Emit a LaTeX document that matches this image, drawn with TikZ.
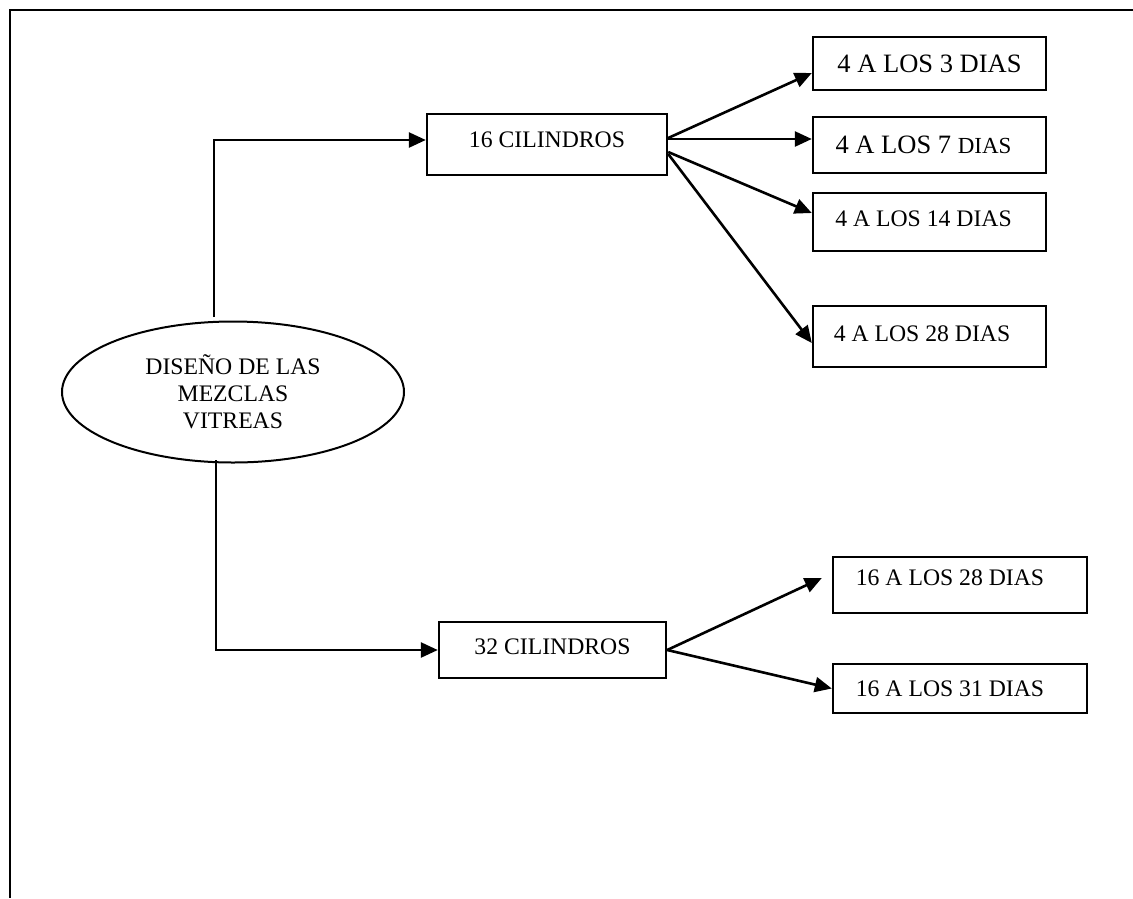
\documentclass[tikz,border=0pt]{standalone}
\usepackage{fontspec}
\setmainfont{Liberation Serif}
\usetikzlibrary{shapes.geometric,arrows.meta,calc}
\begin{document}
\begin{tikzpicture}[x=1pt,y=-1pt,
  box/.style={draw,line width=2.4pt,inner sep=0pt,font=\fontsize{23.7}{27}\selectfont},
  oval/.style={draw,ellipse,line width=2pt,inner sep=0pt,align=center,font=\fontsize{23.7}{27}\selectfont},
  arr/.style={line width=2.6pt,-{Triangle[length=17pt,width=15pt]}},
  frame/.style={line width=2.8pt}]
\useasboundingbox (0,0) rectangle (1133,898);
% frame
\draw[frame] (1133,10) -- (10,10) -- (10,898);
% nodes
\node[oval,minimum width=342pt,minimum height=141pt] (e) at (233,392) {DISEÑO DE LAS\\MEZCLAS\\VITREAS};
\node[box,minimum width=240pt,minimum height=61pt,text depth=10pt] (c16) at (547,144.5) {16 CILINDROS};
\node[box,minimum width=227pt,minimum height=56pt,text depth=7pt] (c32) at (552.5,650) {32 CILINDROS};
\node[box,minimum width=233pt,minimum height=53pt,font=\fontsize{26.5}{30}\selectfont] (d3) at (929.5,63.5) {4 A LOS 3 DIAS};
\node[box,minimum width=233pt,minimum height=56pt,font=\fontsize{26.5}{30}\selectfont] (d7) at (929.5,145) {4 A LOS 7 {\fontsize{23}{26}\selectfont DIAS}\hspace*{12pt}};
\node[box,minimum width=233pt,minimum height=58pt,text depth=7pt] (d14) at (929.5,222) {4 A LOS 14 DIAS\hspace*{12pt}};
\node[box,minimum width=233pt,minimum height=61pt,text depth=6pt] (d28) at (929.5,336.5) {4 A LOS 28 DIAS\hspace*{15pt}};
\node[box,minimum width=254pt,minimum height=56pt,text depth=15pt] (f28) at (960,585) {16 A LOS 28 DIAS\hspace*{20pt}};
\node[box,minimum width=254pt,minimum height=49pt] (f31) at (960,688.5) {16 A LOS 31 DIAS\hspace*{20pt}};
% connectors
\coordinate (t0) at (214,317);
\coordinate (b0) at (216,460);
\draw[arr] (t0) |- ($(c16.west)+(0,-4.5)$);
\draw[arr] (b0) |- (c32.west);
\draw[arr] ($(c16.east)+(0,-6.5)$) -- ($(d3.west)+(0,9.5)$);
\draw[arr] ($(c16.east)+(0,-5.5)$) -- ($(d7.west)+(0,-6)$);
\draw[arr] ($(c16.east)+(0,7.5)$) -- ($(d14.west)+(0,-9)$);
\draw[arr] ($(c16.east)+(0,9.5)$) -- ($(d28.west)+(0,6.5)$);
\draw[arr] (c32.east) -- ($(f28.west)+(-10,-7)$);
\draw[arr] (c32.east) -- (f31.west);
\end{tikzpicture}
\end{document}
